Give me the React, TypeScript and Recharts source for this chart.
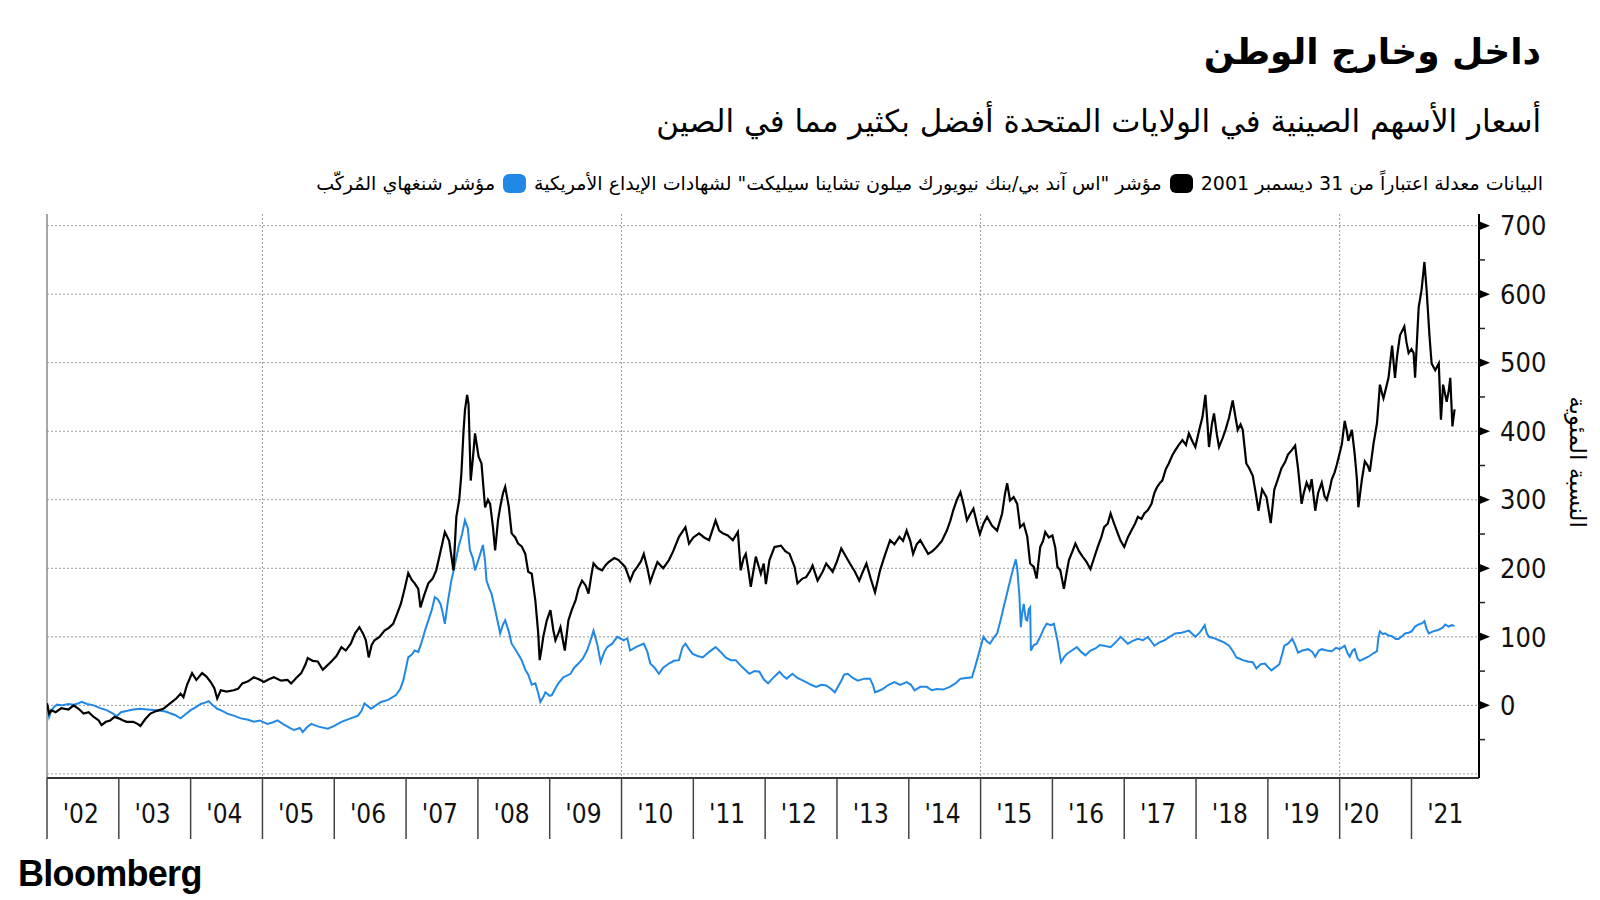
import React from 'react';
import { LineChart, Line, XAxis, YAxis, CartesianGrid, ReferenceLine } from 'recharts';

// S&P/BNY Mellon China Select ADR index (% change since 31 Dec 2001)
const adrX = [
  2002.00, 2002.03, 2002.06, 2002.12, 2002.20, 2002.30, 2002.37, 2002.44, 2002.51, 2002.58, 2002.65, 2002.72, 2002.76, 2002.82, 2002.88, 2002.94,
  2003.00, 2003.06, 2003.11, 2003.20, 2003.26, 2003.30, 2003.37, 2003.44, 2003.53, 2003.62, 2003.68, 2003.74, 2003.80, 2003.86, 2003.90, 2003.95,
  2004.02, 2004.08, 2004.16, 2004.22, 2004.28, 2004.33, 2004.37, 2004.42, 2004.50, 2004.60, 2004.66, 2004.72, 2004.80, 2004.88, 2004.95,
  2005.02, 2005.09, 2005.16, 2005.26, 2005.35, 2005.40, 2005.47, 2005.54, 2005.60, 2005.63, 2005.70, 2005.77, 2005.84, 2005.90, 2005.96,
  2006.03, 2006.10, 2006.16, 2006.23, 2006.29, 2006.35, 2006.40, 2006.44, 2006.48, 2006.52, 2006.56, 2006.63, 2006.70, 2006.76, 2006.82, 2006.88, 2006.93, 2006.98,
  2007.03, 2007.08, 2007.12, 2007.17, 2007.20, 2007.25, 2007.31, 2007.37, 2007.42, 2007.48, 2007.54, 2007.60, 2007.66, 2007.70, 2007.74, 2007.77, 2007.80, 2007.82, 2007.85, 2007.87, 2007.90, 2007.93, 2007.96,
  2008.01, 2008.05, 2008.10, 2008.14, 2008.17, 2008.21, 2008.24, 2008.28, 2008.31, 2008.35, 2008.38, 2008.43, 2008.47, 2008.52, 2008.56, 2008.61, 2008.66, 2008.70, 2008.75, 2008.80, 2008.84, 2008.86, 2008.89, 2008.91, 2008.96,
  2009.01, 2009.05, 2009.08, 2009.12, 2009.15, 2009.21, 2009.26, 2009.31, 2009.36, 2009.40, 2009.45, 2009.50, 2009.54, 2009.58, 2009.61, 2009.67, 2009.73, 2009.78, 2009.82, 2009.90, 2009.96,
  2010.05, 2010.12, 2010.17, 2010.22, 2010.27, 2010.31, 2010.36, 2010.40, 2010.45, 2010.50, 2010.58, 2010.66, 2010.72, 2010.80, 2010.89, 2010.94,
  2011.00, 2011.08, 2011.15, 2011.22, 2011.31, 2011.36, 2011.41, 2011.48, 2011.55, 2011.62, 2011.66, 2011.70, 2011.73, 2011.77, 2011.80, 2011.87, 2011.94, 2011.98,
  2012.01, 2012.06, 2012.13, 2012.22, 2012.28, 2012.34, 2012.41, 2012.45, 2012.52, 2012.57, 2012.62, 2012.66, 2012.73, 2012.80, 2012.85, 2012.94,
  2013.00, 2013.06, 2013.12, 2013.18, 2013.25, 2013.31, 2013.36, 2013.41, 2013.47, 2013.53, 2013.60, 2013.67, 2013.74, 2013.80, 2013.87, 2013.92, 2013.97,
  2014.02, 2014.06, 2014.11, 2014.16, 2014.22, 2014.27, 2014.33, 2014.39, 2014.46, 2014.53, 2014.58, 2014.62, 2014.67, 2014.72, 2014.77, 2014.81, 2014.86, 2014.90, 2014.95, 2014.99,
  2015.04, 2015.09, 2015.16, 2015.23, 2015.30, 2015.34, 2015.37, 2015.41, 2015.46, 2015.51, 2015.55, 2015.60, 2015.65, 2015.69, 2015.74, 2015.78, 2015.83, 2015.87, 2015.90, 2015.95,
  2016.00, 2016.04, 2016.07, 2016.11, 2016.16, 2016.20, 2016.23, 2016.28, 2016.32, 2016.37, 2016.42, 2016.47, 2016.53, 2016.58, 2016.63, 2016.68, 2016.72, 2016.77, 2016.81, 2016.86, 2016.91, 2016.95,
  2017.00, 2017.05, 2017.10, 2017.15, 2017.19, 2017.24, 2017.28, 2017.33, 2017.38, 2017.42, 2017.46, 2017.50, 2017.53, 2017.58, 2017.62, 2017.67, 2017.71, 2017.76, 2017.81, 2017.86, 2017.90, 2017.95, 2017.99,
  2018.04, 2018.09, 2018.13, 2018.16, 2018.18, 2018.22, 2018.25, 2018.29, 2018.32, 2018.37, 2018.41, 2018.46, 2018.51, 2018.55, 2018.58, 2018.62, 2018.65, 2018.70, 2018.74, 2018.79, 2018.84, 2018.87, 2018.92, 2018.98,
  2019.04, 2019.09, 2019.14, 2019.19, 2019.24, 2019.28, 2019.33, 2019.38, 2019.42, 2019.47, 2019.50, 2019.54, 2019.58, 2019.61, 2019.66, 2019.70, 2019.75, 2019.79, 2019.82, 2019.86, 2019.89, 2019.93, 2019.96,
  2020.03, 2020.07, 2020.10, 2020.12, 2020.17, 2020.21, 2020.24, 2020.26, 2020.31, 2020.35, 2020.39, 2020.42, 2020.47, 2020.52, 2020.56, 2020.59, 2020.61, 2020.68, 2020.73, 2020.77, 2020.80, 2020.84, 2020.90, 2020.93, 2020.96,
  2021.00, 2021.03, 2021.05, 2021.08, 2021.10, 2021.14, 2021.18, 2021.21, 2021.25, 2021.28, 2021.33, 2021.38, 2021.41, 2021.44, 2021.49, 2021.52, 2021.54, 2021.57, 2021.60,
];
const adrY = [
  3, -12, -7, -10, -4, -6, 0, -5, -12, -10, -17, -22, -29, -24, -22, -17,
  -19, -22, -24, -24, -27, -30, -20, -12, -8, -5, 0, 5, 10, 17, 12, 30,
  47, 37, 47, 42, 34, 25, 10, 22, 20, 22, 24, 32, 35, 41, 38,
  34, 38, 41, 36, 37, 32, 40, 47, 60, 69, 65, 64, 52, 58, 64,
  72, 85, 80, 90, 105, 114, 105, 95, 70, 88, 95, 100, 109, 113, 119, 135, 149, 170,
  193, 183, 178, 170, 143, 160, 178, 185, 197, 225, 253, 240, 197, 275, 300, 338, 400, 431, 453, 440, 328, 360, 397,
  363, 353, 289, 300, 294, 260, 226, 270, 289, 310, 319, 290, 251, 245, 236, 232, 221, 195, 192, 153, 105, 66, 85, 100, 124,
  139, 110, 95, 105, 114, 80, 124, 140, 153, 170, 182, 175, 163, 190, 207, 200, 197, 205, 209, 215, 212,
  202, 182, 195, 202, 210, 221, 200, 180, 195, 209, 200, 212, 225, 246, 260, 236,
  245, 251, 245, 241, 270, 255, 251, 248, 241, 253, 197, 215, 221, 195, 173, 217, 192, 207,
  177, 212, 231, 233, 225, 221, 202, 178, 185, 187, 195, 204, 182, 195, 207, 195,
  210, 229, 218, 207, 195, 182, 195, 207, 185, 165, 197, 220, 241, 235, 246, 240, 255,
  240, 221, 235, 241, 230, 221, 225, 231, 240, 255, 270, 285, 300, 311, 290, 270, 280, 287, 265, 250,
  265, 275, 262, 255, 280, 309, 324, 299, 304, 294, 260, 265, 246, 207, 202, 185, 231, 240, 253, 245,
  248, 230, 202, 197, 170, 195, 212, 225, 236, 225, 217, 210, 199, 215, 231, 245, 260, 265, 280, 265, 251, 240,
  231, 245, 255, 265, 275, 272, 280, 285, 294, 310, 319, 325, 328, 345, 353, 365, 372, 380, 387, 380, 397, 385, 377,
  400, 421, 453, 410, 377, 410, 426, 395, 377, 390, 402, 420, 445, 420, 402, 410, 402, 353, 346, 335, 304, 284, 315, 304,
  266, 315, 330, 346, 355, 366, 372, 379, 346, 294, 310, 325, 315, 330, 284, 310, 325, 305, 300, 315, 330, 340, 351,
  381, 415, 400, 386, 402, 366, 330, 289, 330, 356, 350, 341, 381, 412, 468, 455, 448, 478, 525, 478, 510, 540, 553, 530, 514,
  520, 514, 478, 540, 581, 606, 647, 607, 540, 499, 489, 499, 417, 468, 443, 460, 478, 407, 432,
];

// Shanghai Composite index (% change since 31 Dec 2001)
const shX = [
  2002.00, 2002.03, 2002.06, 2002.10, 2002.14, 2002.20, 2002.30, 2002.37, 2002.44, 2002.48, 2002.56, 2002.65, 2002.74, 2002.83, 2002.92, 2002.97,
  2003.03, 2003.12, 2003.20, 2003.30, 2003.40, 2003.53, 2003.65, 2003.78, 2003.86, 2003.93,
  2004.00, 2004.07, 2004.14, 2004.20, 2004.25, 2004.31, 2004.37, 2004.44, 2004.51, 2004.60, 2004.70, 2004.80, 2004.88, 2004.96,
  2005.07, 2005.14, 2005.21, 2005.30, 2005.40, 2005.44, 2005.52, 2005.56, 2005.62, 2005.68, 2005.78, 2005.91,
  2006.00, 2006.10, 2006.20, 2006.33, 2006.38, 2006.42, 2006.51, 2006.58, 2006.65, 2006.75, 2006.86, 2006.92, 2006.96,
  2007.00, 2007.03, 2007.08, 2007.12, 2007.17, 2007.21, 2007.26, 2007.31, 2007.36, 2007.40, 2007.44, 2007.48, 2007.51, 2007.54, 2007.58, 2007.63, 2007.68, 2007.73, 2007.78, 2007.82, 2007.86, 2007.89, 2007.93, 2007.96,
  2008.00, 2008.03, 2008.07, 2008.10, 2008.12, 2008.16, 2008.19, 2008.24, 2008.31, 2008.35, 2008.38, 2008.43, 2008.47, 2008.52, 2008.56, 2008.61, 2008.66, 2008.70, 2008.75, 2008.80, 2008.84, 2008.87, 2008.91, 2008.94,
  2009.00, 2009.03, 2009.08, 2009.12, 2009.19, 2009.29, 2009.34, 2009.40, 2009.46, 2009.52, 2009.56, 2009.61, 2009.66, 2009.71, 2009.76, 2009.80, 2009.87, 2009.94,
  2010.03, 2010.08, 2010.12, 2010.20, 2010.31, 2010.36, 2010.40, 2010.46, 2010.52, 2010.58, 2010.66, 2010.73, 2010.80, 2010.85, 2010.89, 2010.94, 2010.99,
  2011.06, 2011.13, 2011.22, 2011.31, 2011.38, 2011.45, 2011.52, 2011.59, 2011.66, 2011.72, 2011.78, 2011.85, 2011.92, 2011.98,
  2012.04, 2012.10, 2012.16, 2012.20, 2012.26, 2012.30, 2012.38, 2012.45, 2012.57, 2012.64, 2012.71, 2012.78, 2012.85, 2012.92, 2012.97,
  2013.06, 2013.10, 2013.15, 2013.22, 2013.29, 2013.38, 2013.46, 2013.50, 2013.53, 2013.60, 2013.64, 2013.72, 2013.80, 2013.88, 2013.97,
  2014.03, 2014.08, 2014.16, 2014.25, 2014.32, 2014.39, 2014.48, 2014.57, 2014.65, 2014.72, 2014.80, 2014.88, 2014.92, 2014.95,
  2015.00, 2015.04, 2015.09, 2015.13, 2015.18, 2015.23, 2015.28, 2015.32, 2015.36, 2015.39, 2015.43, 2015.46, 2015.49, 2015.51, 2015.54, 2015.56, 2015.58, 2015.60, 2015.63, 2015.65, 2015.67, 2015.69, 2015.70, 2015.74, 2015.78, 2015.83, 2015.88, 2015.92, 2015.98,
  2016.02, 2016.07, 2016.10, 2016.12, 2016.16, 2016.20, 2016.27, 2016.34, 2016.40, 2016.46, 2016.53, 2016.60, 2016.66, 2016.72, 2016.81, 2016.88, 2016.95,
  2017.05, 2017.12, 2017.19, 2017.26, 2017.33, 2017.42, 2017.49, 2017.56, 2017.63, 2017.71, 2017.80, 2017.90, 2017.95, 2017.99,
  2018.05, 2018.09, 2018.12, 2018.15, 2018.18, 2018.25, 2018.32, 2018.39, 2018.46, 2018.52, 2018.56, 2018.61, 2018.65, 2018.72, 2018.79, 2018.84, 2018.90, 2018.96,
  2019.00, 2019.05, 2019.10, 2019.16, 2019.20, 2019.23, 2019.28, 2019.34, 2019.38, 2019.42, 2019.48, 2019.56, 2019.62, 2019.66, 2019.71, 2019.75, 2019.82, 2019.89, 2019.95,
  2020.00, 2020.07, 2020.11, 2020.14, 2020.18, 2020.21, 2020.25, 2020.28, 2020.34, 2020.40, 2020.47, 2020.52, 2020.54, 2020.56, 2020.60, 2020.63, 2020.68, 2020.73, 2020.78, 2020.82, 2020.88, 2020.91, 2020.96,
  2021.00, 2021.05, 2021.10, 2021.15, 2021.18, 2021.21, 2021.24, 2021.30, 2021.37, 2021.43, 2021.47, 2021.52, 2021.56, 2021.60,
];
const shY = [
  0, -17, -8, -2, 1, 0, 2, 1, 3, 5, 2, 0, -4, -7, -12, -16,
  -10, -8, -6, -5, -6, -7, -9, -14, -19, -13,
  -7, -3, 2, 4, 6, 0, -5, -8, -12, -15, -19, -21, -24, -22,
  -27, -25, -22, -28, -34, -36, -33, -39, -32, -27, -31, -34,
  -30, -24, -20, -15, -8, 3, -5, 0, 5, 8, 15, 24, 36,
  55, 70, 74, 80, 78, 90, 108, 124, 140, 158, 155, 148, 135, 119, 150, 182, 205, 231, 250, 270, 258, 226, 215, 197,
  210, 220, 234, 210, 182, 170, 163, 140, 105, 118, 124, 108, 90, 82, 75, 66, 52, 45, 30, 32, 18, 5, 12, 19,
  14, 15, 25, 32, 41, 46, 55, 61, 68, 80, 92, 109, 90, 63, 78, 85, 90, 100,
  95, 98, 80, 85, 90, 78, 61, 55, 46, 55, 61, 65, 66, 85, 90, 82, 75,
  72, 70, 78, 85, 78, 70, 66, 66, 58, 52, 46, 50, 49, 38,
  32, 39, 45, 49, 42, 39, 46, 40, 34, 30, 27, 30, 29, 24, 19,
  36, 45, 46, 40, 36, 39, 39, 30, 19, 22, 24, 30, 34, 30, 34,
  30, 22, 27, 27, 22, 24, 23, 27, 32, 39, 40, 41, 55, 66,
  85, 100, 93, 90, 98, 105, 125, 143, 160, 173, 190, 202, 213, 200, 160, 114, 135, 148, 125, 124, 140, 143, 80, 88, 90, 100, 112, 119, 117,
  119, 95, 75, 63, 70, 75, 80, 85, 78, 73, 80, 83, 88, 87, 85, 92, 100,
  90, 94, 97, 95, 100, 87, 92, 95, 100, 105, 106, 109, 104, 100,
  106, 112, 117, 105, 100, 98, 95, 92, 87, 78, 70, 68, 66, 64, 63, 54, 60, 61,
  56, 51, 55, 60, 75, 87, 90, 97, 88, 77, 80, 82, 78, 71, 80, 82, 80, 79, 84,
  82, 87, 76, 71, 80, 82, 68, 65, 68, 71, 76, 79, 100, 108, 104, 105, 102, 101, 97, 97, 102, 105, 106,
  108, 115, 118, 120, 123, 112, 105, 108, 110, 113, 118, 115, 117, 116,
];

const yearTicks = [2002, 2003, 2004, 2005, 2006, 2007, 2008, 2009, 2010, 2011, 2012, 2013, 2014, 2015, 2016, 2017, 2018, 2019, 2020, 2021];
const yearLabels = ["'02", "'03", "'04", "'05", "'06", "'07", "'08", "'09", "'10", "'11", "'12", "'13", "'14", "'15", "'16", "'17", "'18", "'19", "'20", "'21"];
const yMajorTicks = [0, 100, 200, 300, 400, 500, 600, 700];
const yMinorTicks = [-50, 50, 150, 250, 350, 450, 550, 650];
const gridYears = [2005, 2010, 2015, 2020];
const gridValues = [-100, 0, 100, 200, 300, 400, 500, 600, 700];

const TITLE = 'داخل وخارج الوطن';
const SUBTITLE = 'أسعار الأسهم الصينية في الولايات المتحدة أفضل بكثير مما في الصين';
const NOTE = 'البيانات معدلة اعتباراً من 31 ديسمبر 2001';
const ADR_NAME = 'مؤشر "اس آند بي/بنك نيويورك ميلون تشاينا سيليكت" لشهادات الإيداع الأمريكية';
const SH_NAME = 'مؤشر شنغهاي المُركّب';
const Y_TITLE = 'النسبة المئوية';

const BLUE = '#2188e6';
const BLACK = '#000000';

const adrData = adrX.map((x, i) => ({ x, v: adrY[i] }));
const shData = shX.map((x, i) => ({ x, v: shY[i] }));

// label slots sit inside each year span
const labelSlot = (yr: number) => yr + (yr === 2020 ? 0.3 : 0.47);
const xTickValues = [...yearTicks, ...yearTicks.map(labelSlot)].sort((a, b) => a - b);
const labelMap = new Map<number, string>(yearTicks.map((yr, i) => [labelSlot(yr), yearLabels[i]]));

const TICK_FONT = "'DejaVu Sans Condensed', 'DejaVu Sans', sans-serif";

const XTick = (props: any) => {
  const { x, y, payload } = props;
  const v = payload.value;
  if (yearTicks.includes(v)) {
    return <line x1={x} x2={x} y1={y} y2={y + 61} stroke="#444" strokeWidth={1.5} />;
  }
  const label = labelMap.get(v) ?? '';
  return (
    <text x={x} y={y + 45} textAnchor="middle" fontFamily={TICK_FONT} fontSize={26} fill="#111">
      {label}
    </text>
  );
};

const YTick = (props: any) => {
  const { x, y, payload } = props;
  const v = payload.value;
  if (yMinorTicks.includes(v)) {
    return <line x1={x} x2={x + 6} y1={y} y2={y} stroke="#222" strokeWidth={1.5} />;
  }
  if (!yMajorTicks.includes(v)) return <g />;
  return (
    <g>
      <path d={`M${x},${y - 4.5} L${x + 11},${y} L${x},${y + 4.5} Z`} fill="#000" />
      <text x={x + 21} y={y} dy="0.36em" textAnchor="start" fontFamily={TICK_FONT} fontSize={27} fill="#111">
        {v}
      </text>
    </g>
  );
};

const Swatch = ({ color }: { color: string }) => (
  <span
    style={{
      display: 'inline-block',
      width: 23,
      height: 19,
      borderRadius: 6,
      background: color,
      margin: '0 8px',
    }}
  />
);

export default function App() {
  return (
    <div
      style={{
        position: 'fixed',
        left: 0,
        top: 0,
        width: 1600,
        height: 900,
        background: '#fff',
        fontFamily: "'DejaVu Sans', sans-serif",
        color: '#000',
        overflow: 'hidden',
      }}
    >
      <div style={{ position: 'absolute', left: 0, top: 0 }}>
        <LineChart width={1600} height={900} margin={{ top: 214, right: 0, left: 47, bottom: 61 }}>
          <CartesianGrid
            stroke="#9a9a9a"
            strokeDasharray="2 2"
            horizontalValues={gridValues}
            verticalValues={gridYears}
          />
          <XAxis
            dataKey="x"
            type="number"
            domain={[2002, 2021.94]}
            allowDataOverflow
            ticks={xTickValues}
            interval={0}
            tickSize={0}
            tickMargin={0}
            tickLine={false}
            tick={<XTick />}
            height={61}
            axisLine={{ stroke: '#333', strokeWidth: 2 }}
          />
          <YAxis
            orientation="right"
            type="number"
            domain={[-106, 717]}
            allowDataOverflow
            ticks={[-100, ...yMinorTicks, ...yMajorTicks].sort((a, b) => a - b)}
            interval={0}
            tickSize={0}
            tickMargin={0}
            tickLine={false}
            tick={<YTick />}
            width={121}
            axisLine={{ stroke: '#000', strokeWidth: 2 }}
          />
          <ReferenceLine x={2002} stroke="#888" strokeWidth={1.5} />
          <Line
            data={shData}
            dataKey="v"
            type="linear"
            stroke={BLUE}
            strokeWidth={2}
            dot={false}
            isAnimationActive={false}
          />
          <Line
            data={adrData}
            dataKey="v"
            type="linear"
            stroke={BLACK}
            strokeWidth={2.2}
            dot={false}
            isAnimationActive={false}
          />
        </LineChart>
      </div>

      <div
        style={{
          position: 'absolute',
          right: 59,
          top: 26,
          fontSize: 36,
          lineHeight: '52px',
          fontWeight: 700,
          direction: 'rtl',
          whiteSpace: 'nowrap',
        }}
      >
        {TITLE}
      </div>
      <div
        style={{
          position: 'absolute',
          right: 59,
          top: 99,
          fontSize: 31,
          lineHeight: '44px',
          direction: 'rtl',
          whiteSpace: 'nowrap',
        }}
      >
        {SUBTITLE}
      </div>
      <div
        style={{
          position: 'absolute',
          right: 57,
          top: 169,
          fontSize: 19,
          lineHeight: '28px',
          direction: 'rtl',
          whiteSpace: 'nowrap',
          display: 'flex',
          alignItems: 'center',
        }}
      >
        <span>{NOTE}</span>
        <Swatch color={BLACK} />
        <span>{ADR_NAME}</span>
        <Swatch color={BLUE} />
        <span>{SH_NAME}</span>
      </div>

      <div
        style={{
          position: 'absolute',
          left: 1578 - 80,
          top: 462 - 15,
          width: 160,
          height: 30,
          lineHeight: '30px',
          textAlign: 'center',
          fontSize: 23,
          direction: 'rtl',
          whiteSpace: 'nowrap',
          transform: 'rotate(90deg)',
          transformOrigin: '80px 15px',
        }}
      >
        {Y_TITLE}
      </div>

      <div
        style={{
          position: 'absolute',
          left: 18,
          top: 851,
          fontSize: 36,
          lineHeight: '46px',
          fontWeight: 700,
          fontFamily: "'Liberation Sans', Arial, sans-serif",
          letterSpacing: -0.7,
        }}
      >
        Bloomberg
      </div>
    </div>
  );
}
